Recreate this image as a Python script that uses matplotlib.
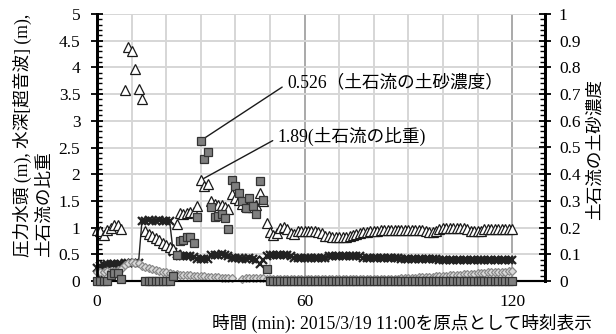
import numpy as np
import matplotlib
matplotlib.use("Agg")
import matplotlib.pyplot as plt
from matplotlib.ticker import MultipleLocator, FixedLocator, FuncFormatter

plt.rcParams['font.family'] = ['Liberation Serif', 'Noto Sans CJK JP']
plt.rcParams['font.size'] = 12.5

nan = np.nan

# elapsed time (min) from 2015/3/19 11:00, one record per minute
minutes = list(range(0, 121))

# specific gravity of the debris flow (left axis)
sg = [0.95, 0.93, 0.86, 0.95, 1.00, 1.04, 1.05, 0.97, 3.57, 4.39,
      4.31, 3.97, 3.60, 3.41, 0.93, 0.88, 0.84, 0.80, 0.77, 0.72,
      0.68, 0.64, 0.60, 1.07, 1.28, 1.26, 1.28, 1.29, 1.30, 1.41,
      1.89, 1.78, 1.81, 1.50, 1.45, 1.43, 1.42, 1.38, 1.34, 1.62,
      1.55, 1.52, 1.44, 1.40, 1.38, 1.38, 1.42, 1.65, 1.50, 1.08,
      0.92, 0.86, 0.90, 1.00, 1.02, 0.97, 0.90, 0.88, 0.94, 0.94,
      0.94, 0.94, 0.94, 0.94, 0.92, 0.89, 0.85, 0.84, 0.83, 0.82,
      0.82, 0.82, 0.83, 0.85, 0.86, 0.88, 0.89, 0.91, 0.92, 0.93,
      0.93, 0.94, 0.95, 0.96, 0.96, 0.96, 0.96, 0.96, 0.96, 0.96,
      0.96, 0.96, 0.96, 0.96, 0.95, 0.93, 0.91, 0.91, 0.93, 0.97,
      1.00, 1.00, 1.00, 1.00, 1.00, 1.00, 1.00, 0.97, 0.94, 0.94,
      0.94, 0.94, 0.98, 0.98, 0.98, 0.98, 0.98, 0.98, 0.98, 0.98,
      0.98]

# pressure head (m), left axis
head = [0.25, 0.28, 0.30, 0.31, 0.31, 0.32, 0.32, 0.32, 0.33, 0.33,
        0.34, 0.34, 0.34, 1.13, 1.13, 1.14, 1.13, 1.13, 1.14, 1.13,
        1.13, 1.12, 0.55, 0.50, 0.47, 0.46, 0.46, 0.46, 0.45, 0.42,
        0.41, 0.41, 0.42, 0.48, 0.49, 0.49, 0.50, 0.49, 0.47, 0.44,
        0.43, 0.43, 0.42, 0.42, 0.43, 0.42, 0.40, 0.32, 0.39, 0.47,
        0.49, 0.49, 0.49, 0.49, 0.49, 0.49, 0.46, 0.44, 0.44, 0.44,
        0.44, 0.44, 0.44, 0.44, 0.44, 0.44, 0.44, 0.46, 0.46, 0.46,
        0.46, 0.46, 0.46, 0.46, 0.46, 0.46, 0.46, 0.44, 0.44, 0.44,
        0.44, 0.44, 0.44, 0.44, 0.44, 0.44, 0.44, 0.44, 0.42, 0.42,
        0.42, 0.42, 0.42, 0.42, 0.42, 0.42, 0.42, 0.42, 0.42, 0.40,
        0.40, 0.40, 0.40, 0.40, 0.40, 0.40, 0.40, 0.40, 0.40, 0.40,
        0.40, 0.40, 0.40, 0.40, 0.40, 0.40, 0.40, 0.40, 0.40, 0.40,
        0.40]

# water depth from the ultrasonic gauge (m), left axis
depth = [0.16, 0.17, 0.17, 0.18, 0.18, 0.19, 0.20, 0.22, 0.30, 0.34,
         0.35, 0.34, 0.33, 0.28, 0.26, 0.24, 0.22, 0.20, 0.19, 0.17,
         0.16, 0.15, 0.14, 0.13, 0.12, 0.12, 0.11, 0.11, 0.10, 0.10,
         0.09, 0.09, 0.08, 0.08, 0.07, 0.07, 0.06, 0.06, 0.05, 0.05,
         nan, nan, 0.04, 0.05, 0.06, 0.06, 0.05, 0.05, 0.05, 0.04,
         0.03, 0.03, 0.03, 0.03, 0.03, 0.03, 0.03, 0.03, 0.03, 0.03,
         0.03, 0.03, 0.03, 0.03, 0.03, 0.03, 0.03, 0.03, 0.03, 0.03,
         0.03, 0.03, 0.03, 0.03, 0.03, 0.03, 0.03, 0.03, 0.03, 0.03,
         0.03, 0.04, 0.04, 0.04, 0.04, 0.04, 0.04, 0.04, 0.05, 0.05,
         0.06, 0.06, 0.06, 0.07, 0.07, 0.07, 0.08, 0.08, 0.09, 0.09,
         0.10, 0.10, 0.11, 0.11, 0.12, 0.12, 0.13, 0.13, 0.14, 0.14,
         0.15, 0.15, 0.15, 0.16, 0.16, 0.16, 0.17, 0.17, 0.17, 0.18,
         0.18]

# sediment concentration of the debris flow (right axis)
conc = [0.0, 0.0, 0.0, 0.0, 0.022, 0.03, 0.03, 0.008, nan, nan,
        nan, nan, nan, nan, 0.0, 0.0, 0.0, 0.0, 0.0, 0.0,
        0.0, 0.0, 0.018, 0.096, 0.15, 0.152, 0.164, 0.166, 0.142, 0.238,
        0.526, 0.458, 0.484, 0.278, 0.238, 0.244, 0.25, 0.236, 0.194, 0.38,
        0.356, 0.33, 0.30, 0.274, 0.312, 0.28, 0.252, 0.374, 0.304, 0.046,
        0.0, 0.0, 0.0, 0.0, 0.0, 0.0, 0.0, 0.0, 0.0, 0.0,
        0.0, 0.0, 0.0, 0.0, 0.0, 0.0, 0.0, 0.0, 0.0, 0.0,
        0.0, 0.0, 0.0, 0.0, 0.0, 0.0, 0.0, 0.0, 0.0, 0.0,
        0.0, 0.0, 0.0, 0.0, 0.0, 0.0, 0.0, 0.0, 0.0, 0.0,
        0.0, 0.0, 0.0, 0.0, 0.0, 0.0, 0.0, 0.0, 0.0, 0.0,
        0.0, 0.0, 0.0, 0.0, 0.0, 0.0, 0.0, 0.0, 0.0, 0.0,
        0.0, 0.0, 0.0, 0.0, 0.0, 0.0, 0.0, 0.0, 0.0, 0.0,
        0.0]

fig = plt.figure(figsize=(6.16, 3.34), dpi=100)
ax = fig.add_axes([97 / 616, 1 - 281 / 334, 448 / 616, 267 / 334])
ax2 = ax.twinx()

ax.set_xlim(0, 129.5)
ax.set_ylim(0, 5)
ax2.set_ylim(0, 1)

# grid: light every 10 min / 0.5, darker at 60 and 120
ax.set_axisbelow(True)
ax.xaxis.set_major_locator(FixedLocator([0, 60, 120]))
ax.xaxis.set_minor_locator(MultipleLocator(10))
ax.yaxis.set_major_locator(MultipleLocator(0.5))
ax.yaxis.set_minor_locator(MultipleLocator(0.1))
ax.grid(which='minor', axis='x', color='#d6d6d6', lw=1.4)
ax.grid(which='major', axis='x', color='#a9a9a9', lw=1.4)
ax.grid(which='major', axis='y', color='#d6d6d6', lw=1.4)
ax.yaxis.set_major_formatter(FuncFormatter(lambda v, p: '%g' % v))

ax2.yaxis.set_major_locator(MultipleLocator(0.1))
ax2.yaxis.set_minor_locator(MultipleLocator(0.02))
ax2.yaxis.set_major_formatter(FuncFormatter(lambda v, p: '%g' % v))

ax.tick_params(axis='x', which='both', length=0, pad=9, labelsize=12.5)
ax.tick_params(axis='y', which='major', direction='inout', length=8, width=1.3, pad=8, labelsize=12.5)
ax.tick_params(axis='y', which='minor', direction='in', length=3.5, width=1.0)
ax2.tick_params(axis='y', which='major', direction='inout', length=8, width=1.3, pad=6, labelsize=12.5)
ax2.tick_params(axis='y', which='minor', direction='in', length=3.5, width=1.0)

for a in (ax, ax2):
    a.spines['top'].set_visible(False)
    a.spines['left'].set_linewidth(2)
    a.spines['right'].set_linewidth(2)
    a.spines['bottom'].set_linewidth(1.5)

ax.plot(minutes, head, color='#222222', lw=1.0, marker='x', ms=6, mew=1.6,
        clip_on=False, zorder=3)
ax.plot(minutes, depth, ls='none', marker='D', ms=4, mfc='#d9d9d9', mec='#8a8a8a',
        mew=0.9, clip_on=False, zorder=4)
ax.plot(minutes, sg, ls='none', marker='^', ms=7.5, mfc='white', mec='#1a1a1a',
        mew=0.9, clip_on=False, zorder=5)
ax2.plot(minutes, conc, ls='none', marker='s', ms=5.5, mfc='#7f7f7f', mec='#333333',
         mew=0.9, clip_on=False, zorder=5)

ax2.annotate('0.526（土石流の土砂濃度）', xy=(minutes[30], conc[30]),
             xytext=(55, 0.742), textcoords='data', ha='left', va='center',
             fontsize=12.7,
             arrowprops=dict(arrowstyle='-', color='#1a1a1a', lw=1.0,
                             shrinkA=2, shrinkB=2, relpos=(0, 0.45)))
ax.annotate('1.89(土石流の比重)', xy=(minutes[30], sg[30]),
            xytext=(52.3, 2.7), textcoords='data', ha='left', va='center',
            fontsize=12.7,
            arrowprops=dict(arrowstyle='-', color='#1a1a1a', lw=1.0,
                            shrinkA=2, shrinkB=2, relpos=(0, 0.45)))

fig.text(33 / 616, 1 - 257 / 334, '圧力水頭 (m), 水深[超音波] (m),\n土石流の比重',
         rotation=90, ha='center', va='bottom', multialignment='left',
         linespacing=1.25, fontsize=12.7)
fig.text(595 / 616, 1 - 150 / 334, '土石流の土砂濃度', rotation=90,
         ha='center', va='center', fontsize=12.7)
fig.text(592 / 616, 1 - 323 / 334, '時間 (min): 2015/3/19 11:00を原点として時刻表示',
         ha='right', va='center', fontsize=12.7)

fig.savefig('out.png', dpi=100)
